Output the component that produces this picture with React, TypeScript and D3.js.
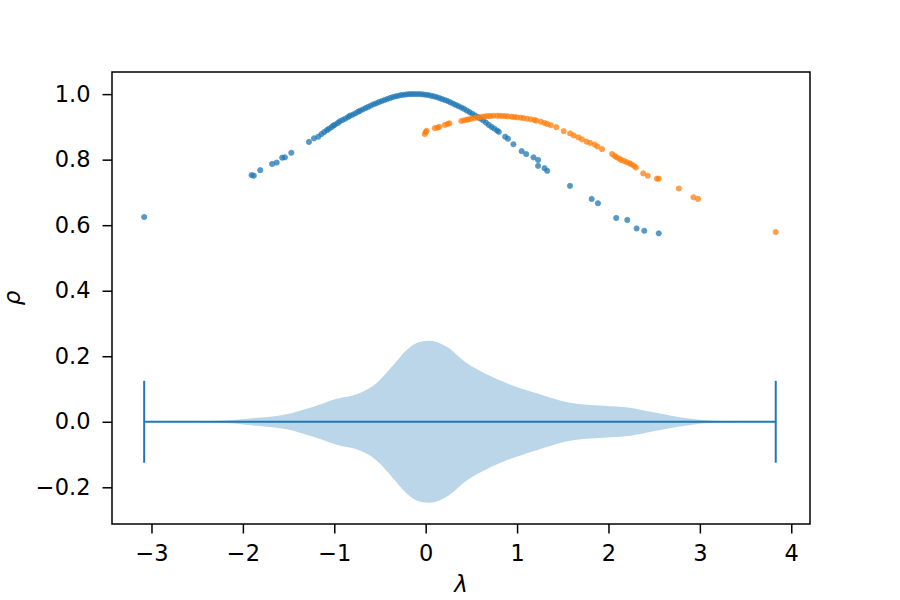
import React, { useEffect, useRef } from 'react';
import * as d3 from 'd3';

// scatter: blue series (lambda, rho)
const blueLambda = [
  -3.08, -1.905, -1.88, -1.81, -1.68, -1.63, -1.57, -1.54, -1.47, -1.277, -1.222, -1.175, -1.14,
  -1.11, -1.08, -1.06, -1.03, -1.01, -0.99, -0.96, -0.94, -0.91, -0.88, -0.85, -0.83, -0.8, -0.77,
  -0.74, -0.72, -0.69, -0.66, -0.63, -0.6, -0.57, -0.54, -0.51, -0.48, -0.45, -0.42, -0.39, -0.36,
  -0.33, -0.3, -0.27, -0.24, -0.21, -0.18, -0.15, -0.12, -0.09, -0.06, -0.03, 0.0, 0.03, 0.06, 0.09,
  0.12, 0.15, 0.18, 0.21, 0.24, 0.27, 0.3, 0.33, 0.36, 0.39, 0.42, 0.45, 0.48, 0.51, 0.54, 0.57,
  0.6, 0.63, 0.66, 0.69, 0.72, 0.75, 0.78, 0.8, 0.87, 0.9, 0.96, 1.05, 1.1, 1.18, 1.23, 1.23, 1.3,
  1.33, 1.579, 1.816, 1.885, 2.085, 2.206, 2.308, 2.392, 2.55,
];
const blueRho = [
  0.625, 0.753, 0.751, 0.768, 0.787, 0.791, 0.806, 0.807, 0.821, 0.854, 0.865, 0.87, 0.878,
  0.884, 0.89, 0.894, 0.899, 0.904, 0.907, 0.912, 0.917, 0.921, 0.925, 0.93, 0.934, 0.937, 0.941,
  0.946, 0.949, 0.953, 0.957, 0.961, 0.965, 0.969, 0.972, 0.976, 0.979, 0.982, 0.985, 0.988, 0.991,
  0.993, 0.995, 0.997, 0.998, 0.999, 1.0, 1.0, 1.0, 1.0, 1.0, 0.999, 0.998, 0.997, 0.995, 0.993,
  0.991, 0.988, 0.985, 0.982, 0.979, 0.975, 0.971, 0.967, 0.963, 0.959, 0.955, 0.95, 0.945, 0.94,
  0.935, 0.93, 0.925, 0.92, 0.913, 0.906, 0.9, 0.895, 0.889, 0.885, 0.87, 0.864, 0.847, 0.826,
  0.817, 0.807, 0.799, 0.781, 0.774, 0.766, 0.72, 0.68, 0.667, 0.622, 0.616, 0.59, 0.583, 0.575,
];

// scatter: orange series (lambda, rho)
const orangeLambda = [
  -0.01, 0.0, 0.01, 0.1, 0.13, 0.15, 0.21, 0.24, 0.26, 0.39, 0.42, 0.45, 0.47, 0.5, 0.53, 0.56,
  0.59, 0.62, 0.65, 0.68, 0.71, 0.74, 0.78, 0.81, 0.84, 0.87, 0.9, 0.94, 0.97, 1.0, 1.04, 1.07,
  1.11, 1.15, 1.19, 1.21, 1.26, 1.3, 1.33, 1.37, 1.43, 1.51, 1.58, 1.62, 1.67, 1.71, 1.76, 1.8,
  1.85, 1.88, 1.93, 2.04, 2.07, 2.09, 2.12, 2.14, 2.17, 2.2, 2.23, 2.25, 2.28, 2.3, 2.38, 2.43,
  2.53, 2.55, 2.77, 2.93, 2.98, 3.83,
];
const orangeRho = [
  0.878, 0.884, 0.888, 0.896, 0.898, 0.9, 0.906, 0.909, 0.911, 0.918, 0.92, 0.922, 0.923, 0.925,
  0.927, 0.928, 0.929, 0.931, 0.932, 0.933, 0.933, 0.934, 0.934, 0.934, 0.933, 0.933, 0.932, 0.931,
  0.93, 0.929, 0.928, 0.927, 0.925, 0.923, 0.921, 0.919, 0.916, 0.912, 0.909, 0.905, 0.899, 0.887,
  0.88, 0.874, 0.868, 0.862, 0.855, 0.851, 0.846, 0.84, 0.832, 0.817, 0.811, 0.807, 0.803, 0.799,
  0.796, 0.792, 0.789, 0.786, 0.781, 0.776, 0.758, 0.751, 0.742, 0.742, 0.712, 0.685, 0.68, 0.579,
];

// violin (horizontal, centred on rho = 0): half width along lambda
const violinLambda = [
  -3.08, -2.6, -2.25, -1.886, -1.521, -1.229, -0.974, -0.719, -0.536, -0.354, -0.208, -0.062,
  0.047, 0.23, 0.449, 0.667, 0.922, 1.214, 1.579, 1.943, 2.235, 2.49, 2.856, 3.147, 3.5, 3.83,
];
const violinHalf = [
  0.0, 0.0008, 0.003, 0.011, 0.023, 0.046, 0.07, 0.088, 0.118, 0.173, 0.219, 0.244,
  0.2475, 0.229, 0.179, 0.145, 0.114, 0.087, 0.058, 0.049, 0.043, 0.029, 0.011, 0.003, 0.0006, 0.0,
];
const violinMin = -3.08;
const violinMax = 3.83;
const violinCap = 0.125;

const xTicks = [-3, -2, -1, 0, 1, 2, 3, 4];
const yTicks = [-0.2, 0.0, 0.2, 0.4, 0.6, 0.8, 1.0];

const W = 900;
const H = 600;
const FONT = 'DejaVu Sans, sans-serif';

const App: React.FC = () => {
  const svgRef = useRef<SVGSVGElement | null>(null);

  useEffect(() => {
    if (!svgRef.current) return;
    const svg = d3.select(svgRef.current);
    svg.selectAll('*').remove();

    const left = 112, right = 810, top = 72, bottom = 524;
    const x = d3.scaleLinear().domain([-3.432, 4.205]).range([left, right]);
    const y = d3.scaleLinear().domain([-0.312, 1.0675]).range([bottom, top]);

    svg.append('rect').attr('width', W).attr('height', H).attr('fill', '#fff');

    // violin body
    const vData = violinLambda.map((l, i) => ({ l, w: violinHalf[i] }));
    const area = d3.area<{ l: number; w: number }>()
      .x((d) => x(d.l))
      .y0((d) => y(-d.w))
      .y1((d) => y(d.w))
      .curve(d3.curveMonotoneX);
    svg.append('path')
      .attr('d', area(vData) as string)
      .attr('fill', '#1f77b4')
      .attr('fill-opacity', 0.3);

    // extrema + bar
    const vg = svg.append('g').attr('stroke', '#1f77b4').attr('stroke-width', 2);
    vg.append('line')
      .attr('x1', x(violinMin)).attr('x2', x(violinMax))
      .attr('y1', y(0)).attr('y2', y(0));
    [violinMin, violinMax].forEach((v) => {
      vg.append('line')
        .attr('x1', x(v)).attr('x2', x(v))
        .attr('y1', y(-violinCap)).attr('y2', y(violinCap));
    });

    // scatter
    const drawPoints = (xs: number[], ys: number[], color: string) => {
      svg.append('g')
        .selectAll('circle')
        .data(xs.map((v, i) => [v, ys[i]]))
        .enter()
        .append('circle')
        .attr('cx', (d) => x(d[0]))
        .attr('cy', (d) => y(d[1]))
        .attr('r', 2.6)
        .attr('fill', color)
        .attr('stroke', color)
        .attr('stroke-width', 0.9)
        .attr('opacity', 0.75);
    };
    drawPoints(blueLambda, blueRho, '#1f77b4');
    drawPoints(orangeLambda, orangeRho, '#ff7f0e');

    // axes
    const fmtX = (d: number) => (d < 0 ? '\u2212' + Math.abs(d) : String(d));
    const fmtY = (d: number) => (d < 0 ? '\u2212' + Math.abs(d).toFixed(1) : d.toFixed(1));

    const xAxis = svg.append('g').attr('transform', `translate(0,${bottom})`)
      .call(d3.axisBottom(x).tickValues(xTicks).tickFormat((d) => fmtX(d as number)).tickSizeOuter(0).tickSize(9.5).tickPadding(12));
    const yAxis = svg.append('g').attr('transform', `translate(${left},0)`)
      .call(d3.axisLeft(y).tickValues(yTicks).tickFormat((d) => fmtY(d as number)).tickSizeOuter(0).tickSize(9.5).tickPadding(12));
    [xAxis, yAxis].forEach((g) => {
      g.select('.domain').remove();
      g.selectAll('line').attr('stroke', '#000').attr('stroke-width', 1.5);
      g.selectAll('text').attr('font-family', FONT).attr('font-size', 22.5).attr('fill', '#000');
    });

    svg.append('rect')
      .attr('x', left).attr('y', top)
      .attr('width', right - left).attr('height', bottom - top)
      .attr('fill', 'none').attr('stroke', '#000').attr('stroke-width', 1.5);

    svg.append('text')
      .attr('x', (left + right) / 2).attr('y', 592)
      .attr('text-anchor', 'middle')
      .attr('font-family', FONT).attr('font-size', 23).attr('font-style', 'italic')
      .text('λ');
    svg.append('text')
      .attr('transform', `translate(20,${(top + bottom) / 2}) rotate(-90)`)
      .attr('text-anchor', 'middle')
      .attr('font-family', FONT).attr('font-size', 23).attr('font-style', 'italic')
      .text('ρ');
  }, []);

  return (
    <div style={{ position: 'absolute', left: 0, top: 0 }}>
      <svg ref={svgRef} width={W} height={H} style={{ display: 'block' }} />
    </div>
  );
};

export default App;
